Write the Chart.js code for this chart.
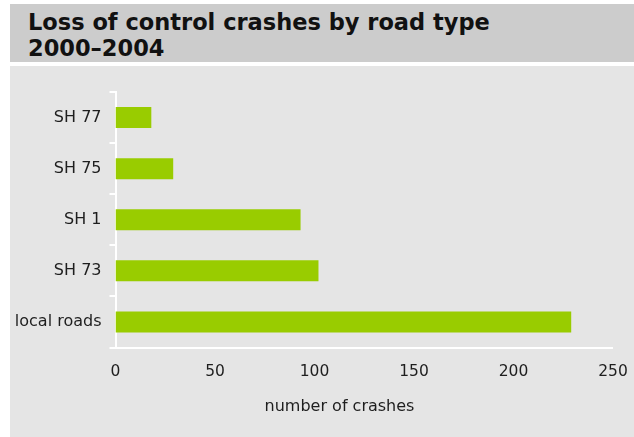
<!DOCTYPE html>
<html>
<head>
<meta charset="utf-8">
<script src="https://cdn.jsdelivr.net/npm/chart.js@4"></script>
<style>
  html, body { margin: 0; padding: 0; background: #ffffff; width: 634px; height: 437px; overflow: hidden; }
  #band { position: absolute; left: 10px; top: 4px; width: 624px; height: 58px; background: #cccccc; }
  #title { position: absolute; left: 28px; top: 8.5px; font-family: "DejaVu Sans", sans-serif; font-weight: bold; font-size: 22.5px; line-height: 26px; color: #111111; white-space: nowrap; }
  #panel { position: absolute; left: 10px; top: 66px; width: 624px; height: 371px; background: #e5e5e5; }
  #xtitle { position: absolute; left: 239.5px; top: 396px; width: 200px; text-align: center; font-family: "DejaVu Sans", sans-serif; font-size: 16px; line-height: 20px; color: #1e1e1e; }
  #wrap { position: absolute; left: 0; top: 0; width: 634px; height: 437px; }
</style>
</head>
<body>
<div id="band"></div>
<div id="title">Loss of control crashes by road type<br>2000–2004</div>
<div id="panel"></div>
<div id="wrap"><canvas id="c" width="634" height="437"></canvas></div>
<div id="xtitle">number of crashes</div>
<script>
const categories = ['SH 77', 'SH 75', 'SH 1', 'SH 73', 'local roads'];
const crashes = [18, 29, 93, 102, 229];
const xTicks = [0, 50, 100, 150, 200, 250];

new Chart(document.getElementById('c'), {
  type: 'bar',
  data: {
    labels: categories,
    datasets: [{
      data: crashes,
      backgroundColor: '#99cc00',
      borderWidth: 0,
      categoryPercentage: 1,
      barPercentage: 0.41
    }]
  },
  options: {
    indexAxis: 'y',
    responsive: false,
    animation: false,
    devicePixelRatio: 1,
    layout: { padding: { top: 92, right: 21, left: 0, bottom: 0 } },
    plugins: { legend: { display: false }, tooltip: { enabled: false }, title: { display: false } },
    scales: {
      x: {
        min: xTicks[0],
        max: xTicks[xTicks.length - 1],
        afterBuildTicks: s => { s.ticks = xTicks.map(v => ({ value: v })); },
        afterFit: s => { s.height = 89.5; s.paddingLeft = 0; s.paddingRight = 0; },
        grid: { display: true, drawOnChartArea: false, drawTicks: false, color: '#ffffff', lineWidth: 0 },
        border: { display: true, color: '#ffffff', width: 2 },
        ticks: { color: '#1e1e1e', font: { family: 'DejaVu Sans', size: 15.5 }, padding: 15, maxRotation: 0 }
      },
      y: {
        afterFit: s => { s.width = 115.5; s.paddingTop = 0; s.paddingBottom = 0; },
        grid: { display: true, drawOnChartArea: false, drawTicks: true, tickLength: 6, color: '#ffffff', lineWidth: 2, offset: true },
        border: { display: true, color: '#ffffff', width: 2 },
        ticks: { color: '#1e1e1e', font: { family: 'DejaVu Sans', size: 16 }, padding: 8 }
      }
    }
  }
});
</script>
</body>
</html>
